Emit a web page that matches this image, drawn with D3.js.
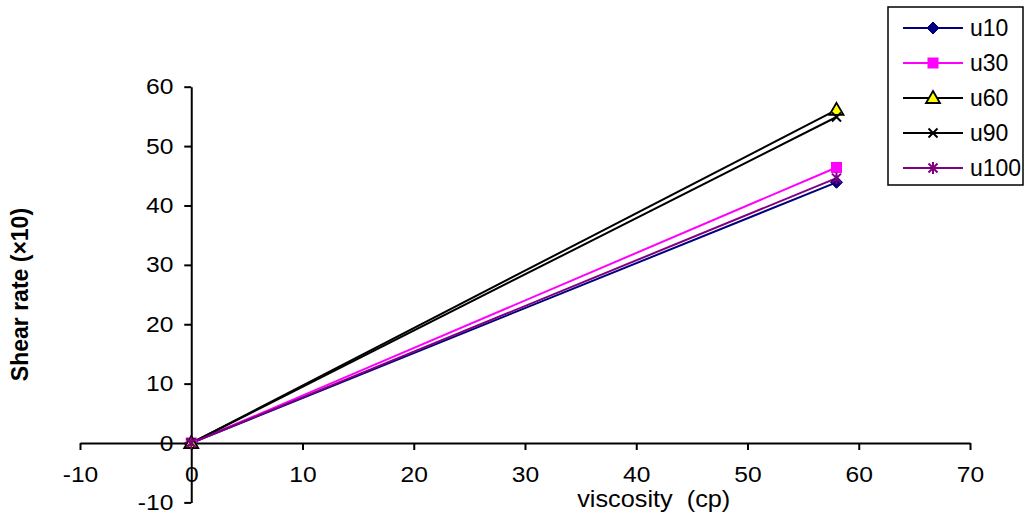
<!DOCTYPE html>
<html><head><meta charset="utf-8">
<script src="https://cdn.jsdelivr.net/npm/d3@7"></script>
<style>body{margin:0;background:#fff}svg{display:block}text{font-family:Arial,"Liberation Sans",sans-serif}</style>
</head><body>
<svg id="c" width="1026" height="519"></svg>
<script>
const seriesNames = ["u10","u30","u60","u90","u100"];
const xValues = [0, 58];
const u10 = [0, 43.9];
const u30 = [0, 46.4];
const u60 = [0, 56.1];
const u90 = [0, 54.9];
const u100 = [0, 44.6];
const xTicks = [-10,0,10,20,30,40,50,60,70];
const yTicks = [-10,0,10,20,30,40,50,60];

const seriesValues = [u10,u30,u60,u90,u100];
const colors = ["#000080","#FF00FF","#000000","#000000","#800080"];
const markers = ["diamond","square","triangle","x","star"];

const svg = d3.select("#c");
const x = d3.scaleLinear().domain([-10,70]).range([80,970]);
const y = d3.scaleLinear().domain([-10,60]).range([502.4,86.7]);
const FS = 22;

// x axis
const gx = svg.append("g").attr("transform",`translate(0,${y(0)})`)
  .call(d3.axisBottom(x).tickValues(xTicks).tickFormat(d=>String(d)).tickSize(7).tickSizeOuter(0).tickPadding(16));
// y axis
const gy = svg.append("g").attr("transform",`translate(${x(0)},0)`)
  .call(d3.axisLeft(y).tickValues(yTicks).tickFormat(d=>String(d)).tickSize(7).tickSizeOuter(0).tickPadding(9));
[gx,gy].forEach(g=>{
  g.select(".domain").attr("stroke","#000").attr("stroke-width",2);
  g.selectAll(".tick line").attr("stroke","#000").attr("stroke-width",2);
  g.selectAll(".tick text").attr("fill","#000").style("font-size",FS+"px")
    .style("font-family","Arial, 'Liberation Sans', sans-serif").attr("transform","scale(1.12,1)");
});

// titles
svg.append("text").attr("transform","translate(653.7,507) scale(1.1,1)").attr("text-anchor","middle")
  .style("font-size","23px").style("white-space","pre").text("viscosity  (cp)");
svg.append("text").attr("transform",`translate(28,${(y(60)+y(-10))/2}) rotate(-90)`)
  .attr("text-anchor","middle").style("font-size","23px").style("font-weight","bold").text("Shear rate (×10)");

function drawMarker(g, type, cx, cy, color){
  if(type==="diamond"){
    g.append("path").attr("d",`M${cx},${cy-6}L${cx+6},${cy}L${cx},${cy+6}L${cx-6},${cy}Z`).attr("fill",color).attr("stroke",color);
  } else if(type==="square"){
    g.append("rect").attr("x",cx-5.5).attr("y",cy-5.5).attr("width",11).attr("height",11).attr("fill",color);
  } else if(type==="triangle"){
    g.append("path").attr("d",`M${cx},${cy-7}L${cx+7},${cy+5}L${cx-7},${cy+5}Z`).attr("fill","#FFFF00").attr("stroke","#000").attr("stroke-width",1.8);
  } else if(type==="x"){
    g.append("path").attr("d",`M${cx-4.5},${cy-4.5}L${cx+4.5},${cy+4.5}M${cx-4.5},${cy+4.5}L${cx+4.5},${cy-4.5}`).attr("stroke",color).attr("stroke-width",2);
  } else if(type==="star"){
    g.append("path").attr("d",`M${cx-4.5},${cy-4.5}L${cx+4.5},${cy+4.5}M${cx-4.5},${cy+4.5}L${cx+4.5},${cy-4.5}M${cx},${cy-6}L${cx},${cy+6}`).attr("stroke",color).attr("stroke-width",2);
  }
}

const line = d3.line().x((d,i)=>x(xValues[i])).y(d=>y(d));
const plot = svg.append("g");
seriesValues.forEach((vals,si)=>{
  plot.append("path").datum(vals).attr("d",line).attr("fill","none").attr("stroke",colors[si]).attr("stroke-width",2);
});
seriesValues.forEach((vals,si)=>{
  vals.forEach((v,i)=>drawMarker(plot, markers[si], x(xValues[i]), y(v), colors[si]));
});

// legend
const lg = svg.append("g");
lg.append("rect").attr("x",888).attr("y",7).attr("width",135).attr("height",178).attr("fill","#fff").attr("stroke","#000").attr("stroke-width",1.5);
seriesNames.forEach((n,i)=>{
  const cy = 28 + i*35;
  lg.append("line").attr("x1",903).attr("x2",963).attr("y1",cy).attr("y2",cy).attr("stroke",colors[i]).attr("stroke-width",2);
  drawMarker(lg, markers[i], 933, cy, colors[i]);
  lg.append("text").attr("x",970).attr("y",cy).attr("dy","0.36em").style("font-size","23px").text(n);
});
</script>
</body></html>
